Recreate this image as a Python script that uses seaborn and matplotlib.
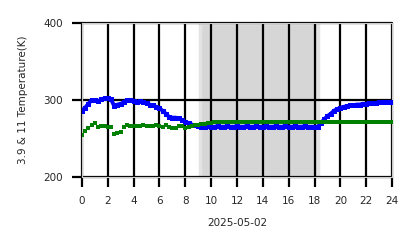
import numpy as np
import pandas as pd
import matplotlib
matplotlib.use("Agg")
import matplotlib.pyplot as plt
import seaborn as sns

hours = [i * 0.25 for i in range(97)]

temp_39 = [
    286, 290, 295, 300, 300, 298, 301, 302, 302, 301,
    292, 294, 295, 297, 300, 300, 299, 297, 298, 297,
    296, 294, 293, 291, 289, 286, 282, 278, 277, 277,
    276, 274, 271, 270, 268, 267, 266, 265, 265, 266,
    265, 265, 266, 265, 265, 266, 265, 265, 266, 265,
    265, 266, 265, 265, 266, 265, 265, 266, 265, 265,
    266, 265, 265, 266, 265, 265, 266, 265, 265, 266,
    265, 265, 265, 265, 270, 275, 279, 282, 286, 288,
    290, 291, 292, 293, 293, 294, 294, 295, 295, 296,
    296, 296, 297, 297, 297, 297, 297,
]

temp_11 = [
    255, 260, 264, 268, 270, 265, 266, 266, 265, 265,
    256, 257, 258, 265, 267, 266, 266, 266, 266, 267,
    266, 266, 266, 267, 266, 265, 267, 265, 263, 264,
    266, 266, 264, 265, 266, 267, 268, 269, 269, 270,
    270, 271, 271, 271, 271, 271, 271, 271, 271, 271,
    271, 271, 271, 271, 271, 271, 271, 271, 271, 271,
    271, 271, 271, 271, 271, 271, 271, 271, 271, 271,
    271, 271, 271, 271, 271, 271, 271, 271, 271, 271,
    271, 271, 271, 271, 271, 271, 271, 271, 271, 271,
    271, 271, 271, 271, 271, 271, 271,
]

x_ticks = list(range(0, 25, 2))
y_ticks = [200, 300, 400]
shade_start, shade_end = 9.15, 18.25

df = pd.DataFrame({"hour": hours, "t39": temp_39, "t11": temp_11})

sns.set_theme(style="white")
plt.rcParams["font.family"] = ["DejaVu Sans"]

fig = plt.figure(figsize=(4.18, 2.48), dpi=100)
ax = fig.add_axes([0.196, 0.287, 0.742, 0.62])

ax.axvspan(shade_start, shade_end, facecolor="#d6d6d6", edgecolor="#e3e3e3",
           linewidth=2.5, zorder=0)

sns.lineplot(data=df, x="hour", y="t39", ax=ax, color="#0000ff", linewidth=2.8,
             marker="s", markersize=3.6, markeredgewidth=0, zorder=3)
sns.scatterplot(data=df, x="hour", y="t11", ax=ax, color="#008000", marker="s",
                s=9, linewidth=0, zorder=4)

ax.set_xlim(0, 24)
ax.set_ylim(200, 400)
ax.set_xticks(x_ticks)
ax.set_yticks(y_ticks)
ax.grid(True, color="black", linewidth=1.6, zorder=1)
ax.set_axisbelow("line")
for gl in ax.get_xgridlines() + ax.get_ygridlines():
    gl.set_clip_on(False)
for s in ax.spines.values():
    s.set_color("#cccccc")
    s.set_linewidth(0.8)

ax.tick_params(axis="both", which="major", direction="out", length=7, width=1.6,
               color="black", labelsize=7.5, pad=6.5, bottom=True, left=True)
ax.set_xlabel("2025-05-02", fontsize=7.5, labelpad=9)
ax.set_ylabel("3.9 & 11 Temperature(K)", fontsize=7.5, labelpad=11)

fig.savefig("out.png", dpi=100)
